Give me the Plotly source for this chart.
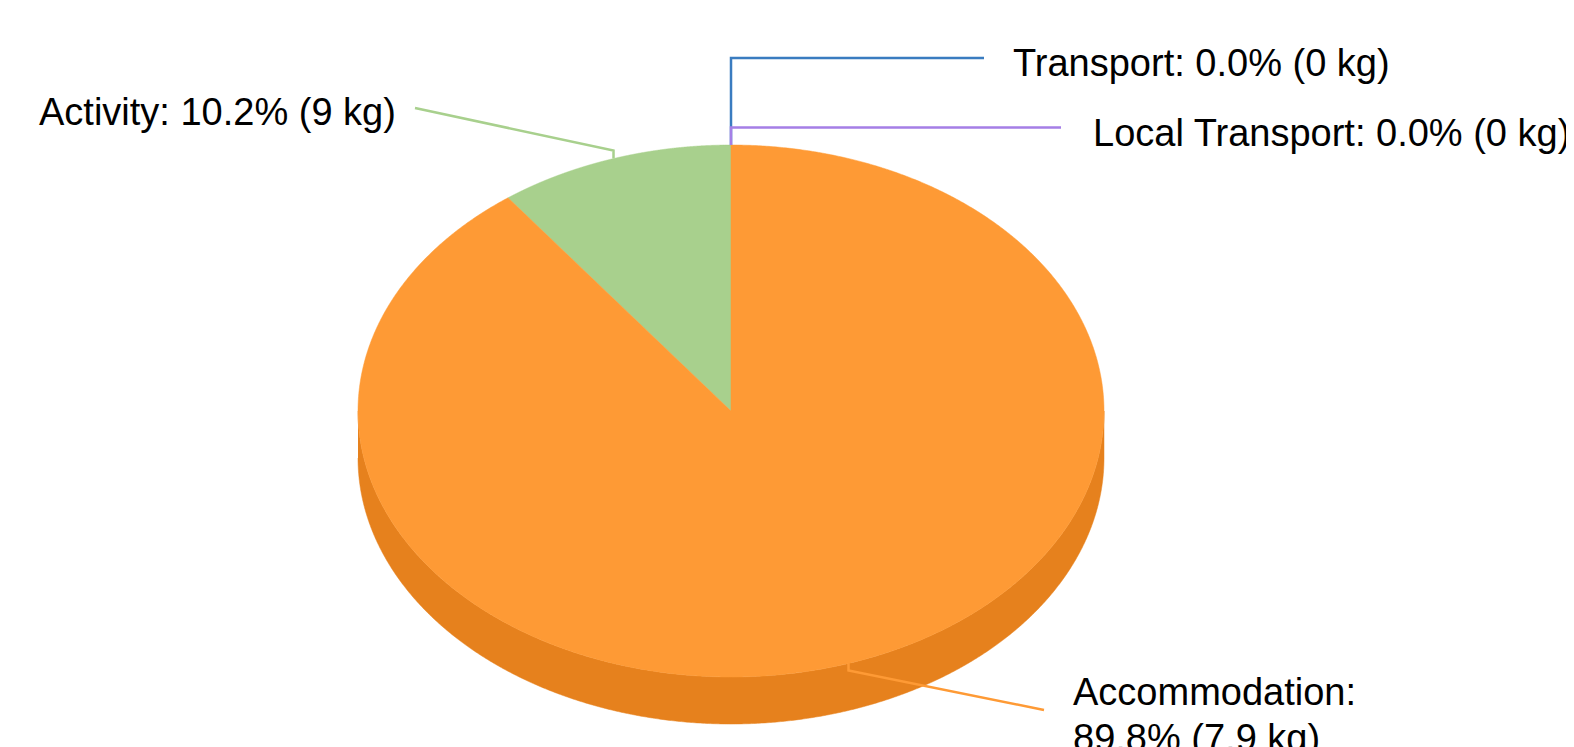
import numpy as np
import plotly.graph_objects as go

# ---- data ----
categories = ["Transport", "Local Transport", "Activity", "Accommodation"]
percentages = [0.0, 0.0, 10.2, 89.8]
label_lines = [
    ["Transport: 0.0% (0 kg)"],
    ["Local Transport: 0.0% (0 kg)"],
    ["Activity: 10.2% (9 kg)"],
    ["Accommodation:", "89.8% (7.9 kg)"],
]

# ---- style / layout ----
top_colors = ["#3A7CC0", "#A57FE6", "#A8D08D", "#FE9A35"]
side_colors = ["#2F66A0", "#8A66C8", "#8DB873", "#E6811D"]
line_colors = ["#3A7CC0", "#A57FE6", "#A8D08D", "#FE9A35"]
W, H = 1574, 747
PAGE_OFFSET = 8  # default body margin of the html page
cx, cy, rx, ry, depth = 731.0, 411.0, 373.0, 266.0, 47.0
FONT = dict(family="Liberation Sans, Arial, sans-serif", size=38, color="#000000")

label_layout = {
    "Transport": dict(elbow=(0, 58), end=(984, 58), text=(1011, 63), anchor="left"),
    "Local Transport": dict(elbow=(0, 127.5), end=(1061, 127.5), text=(1091, 133), anchor="left"),
    "Activity": dict(elbow=(0, -8), end=(415, 108), text=(398, 112), anchor="right"),
    "Accommodation": dict(elbow=(0, 7), end=(1044, 710), text=(1071, 692), anchor="left"),
}


def pt(theta, dy=0.0):
    return cx - rx * np.sin(theta), cy - ry * np.cos(theta) + dy


fig = go.Figure()

fracs = np.array(percentages) / sum(percentages)
starts = np.concatenate([[0], np.cumsum(fracs)[:-1]]) * 2 * np.pi
ends = np.cumsum(fracs) * 2 * np.pi

# side walls (front half only)
for i, cat in enumerate(categories):
    a0, a1 = max(starts[i], np.pi / 2), min(ends[i], 3 * np.pi / 2)
    if a1 <= a0:
        continue
    th = np.linspace(a0, a1, 600)
    xt, yt = pt(th)
    xb, yb = pt(th[::-1], depth)
    fig.add_trace(go.Scatter(x=np.concatenate([xt, xb]), y=np.concatenate([yt, yb]),
                             fill="toself", fillcolor=side_colors[i], mode="lines",
                             line=dict(width=0.5, color=side_colors[i], simplify=False),
                             hoverinfo="skip", showlegend=False))

# top faces
for i, cat in enumerate(categories):
    if ends[i] - starts[i] <= 0:
        continue
    th = np.linspace(starts[i], ends[i], 1000)
    xs, ys = pt(th)
    x = np.concatenate([[cx], xs, [cx]])
    y = np.concatenate([[cy], ys, [cy]])
    fig.add_trace(go.Scatter(x=x, y=y, fill="toself", fillcolor=top_colors[i], mode="lines",
                             line=dict(width=0.5, color=top_colors[i], simplify=False),
                             hoverinfo="text", text=f"{cat}: {percentages[i]}%",
                             showlegend=False))

# leader lines and labels
annotations = []
for i, cat in enumerate(categories):
    mid = (starts[i] + ends[i]) / 2
    x0, y0 = pt(mid)
    L = label_layout[cat]
    if cat in ("Transport", "Local Transport"):
        ex, ey = x0, L["elbow"][1]
    else:
        ex, ey = x0 + L["elbow"][0], y0 + L["elbow"][1]
    fig.add_trace(go.Scatter(x=[x0, ex, L["end"][0]], y=[y0, ey, L["end"][1]], mode="lines",
                             line=dict(color=line_colors[i], width=2.5), hoverinfo="skip",
                             showlegend=False))
    tx, ty = L["text"]
    for k, line in enumerate(label_lines[i]):
        annotations.append(dict(x=tx, y=ty + k * 46, xref="x", yref="y", text=line,
                                showarrow=False, xanchor=L["anchor"], yanchor="middle",
                                font=FONT))

fig.update_layout(
    width=W, height=H, margin=dict(l=0, r=0, t=0, b=0),
    paper_bgcolor="white", plot_bgcolor="white",
    xaxis=dict(range=[PAGE_OFFSET, W + PAGE_OFFSET], visible=False, fixedrange=True),
    yaxis=dict(range=[H + PAGE_OFFSET, PAGE_OFFSET], visible=False, fixedrange=True),
    annotations=annotations,
)
fig.write_html("out.html")
